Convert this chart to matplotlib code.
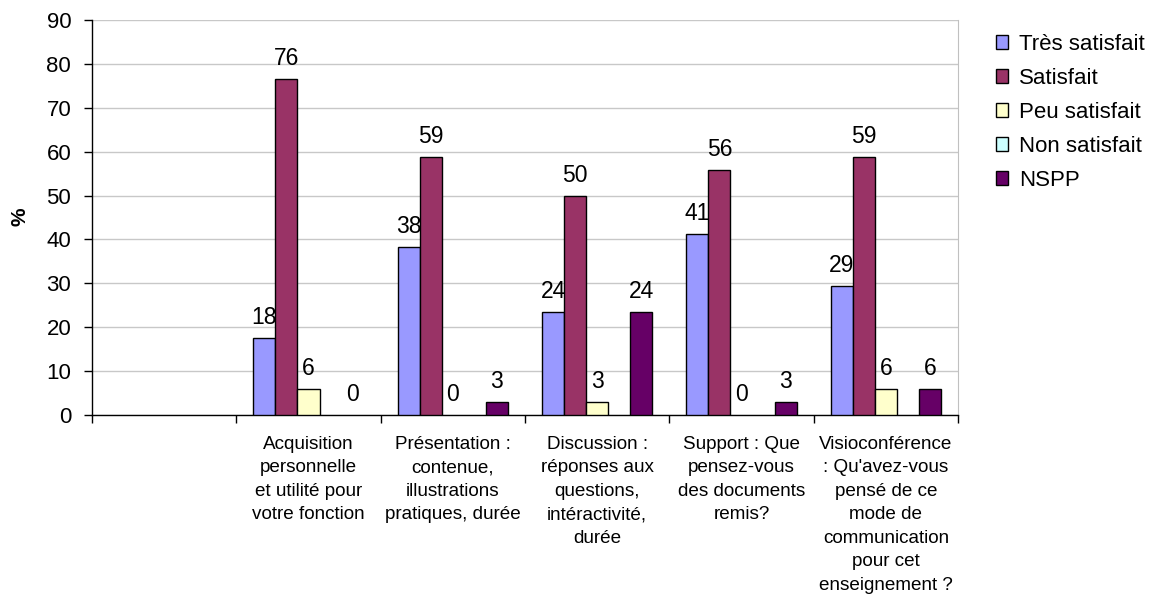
import matplotlib
matplotlib.use("Agg")
import matplotlib.pyplot as plt
import numpy as np

plt.rcParams['font.family'] = ['Liberation Sans', 'DejaVu Sans']

categories = [
    "",
    "Acquisition\npersonnelle\net utilité pour\nvotre fonction",
    "Présentation :\ncontenue,\nillustrations\npratiques, durée",
    "Discussion :\nréponses aux\nquestions,\nintéractivité,\ndurée",
    "Support : Que\npensez-vous\ndes documents\nremis?",
    "Visioconférence\n: Qu'avez-vous\npensé de ce\nmode de\ncommunication\npour cet\nenseignement ?",
]
series_names = ["Très satisfait", "Satisfait", "Peu satisfait", "Non satisfait", "NSPP"]
tres_satisfait = [None, 17.6, 38.2, 23.5, 41.2, 29.4]
satisfait      = [None, 76.5, 58.8, 50.0, 55.9, 58.8]
peu_satisfait  = [None, 5.9, 0.0, 2.9, 0.0, 5.9]
non_satisfait  = [None, None, None, None, None, None]
nspp           = [None, 0.0, 2.9, 23.5, 2.9, 5.9]
series_values = [tres_satisfait, satisfait, peu_satisfait, non_satisfait, nspp]
colors = ["#9999FF", "#993366", "#FFFFCC", "#CCFFFF", "#660066"]
yticks = [0, 10, 20, 30, 40, 50, 60, 70, 80, 90]

fig = plt.figure(figsize=(11.51, 6.0), dpi=100)
ax = fig.add_axes([92/1151, 1 - 415/600, (958-92)/1151, (415-20)/600])

n = len(categories)
x = np.arange(n)
w = 0.1525
for i, (name, vals, c) in enumerate(zip(series_names, series_values, colors)):
    xs = x + (i - 2) * w
    hv = [v if (v is not None and v > 0) else np.nan for v in vals]
    ax.bar(xs, hv, width=w, color=c, edgecolor="black", linewidth=1.0,
           label=name, zorder=3)
    for v, xi in zip(vals, xs):
        if v is None:
            continue
        ax.annotate(f"{v:.0f}", (xi, v), xytext=(0, 6.5), textcoords="offset points",
                    ha="center", va="bottom", fontsize=16.5, zorder=4)

ax.set_xlim(-0.5, n - 0.5)
ax.set_ylim(0, 90)
ax.set_yticks(yticks)
ax.tick_params(axis="y", labelsize=16, length=6, width=1, direction="out", pad=9)
ax.set_xticks(x)
ax.set_xticklabels(categories, fontsize=13.6, linespacing=1.5, va="top")
ax.tick_params(axis="x", which="major", length=0, pad=15)
ax.set_xticks(np.arange(-0.5, n, 1.0), minor=True)
ax.tick_params(axis="x", which="minor", length=6, width=1, direction="out")
ax.yaxis.grid(True, color="#C8C8C8", linewidth=1.0, zorder=0)
ax.set_axisbelow(True)
ax.spines["top"].set_visible(False)
ax.spines["right"].set_color("#C0C0C0")
ax.spines["left"].set_linewidth(1.0)
ax.spines["bottom"].set_linewidth(1.0)

fig.text(20/1151, 1 - 217/600, "%", rotation=90, fontsize=15, fontweight="bold",
         ha="center", va="center")

leg = ax.legend(loc="upper left", bbox_to_anchor=(996/1151, 1 - 34/600),
                bbox_transform=fig.transFigure, frameon=False, fontsize=16,
                handlelength=0.55, handleheight=0.55, handletextpad=0.5,
                labelspacing=0.585, borderaxespad=0, borderpad=0)

fig.savefig("out.png", dpi=100)
